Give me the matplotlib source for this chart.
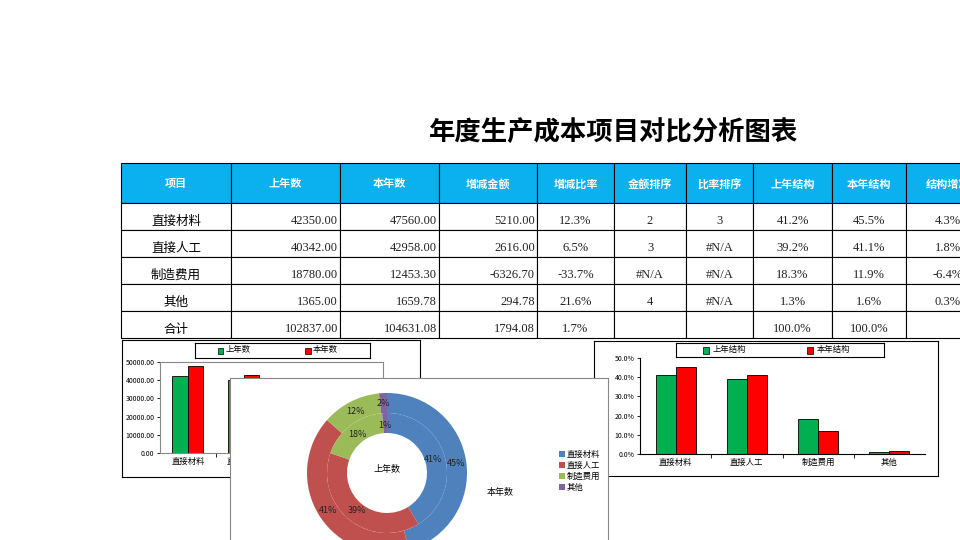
import matplotlib.pyplot as plt
from matplotlib.patches import Rectangle

plt.rcParams['font.family'] = ['Noto Sans CJK SC', 'DejaVu Sans']

# table data
headers = ['项目', '上年数', '本年数', '增减金额', '增减比率', '金额排序', '比率排序', '上年结构', '本年结构', '结构增减']
items = ['直接材料', '直接人工', '制造费用', '其他', '合计']
last_year = ['42350.00', '40342.00', '18780.00', '1365.00', '102837.00']
this_year = ['47560.00', '42958.00', '12453.30', '1659.78', '104631.08']
change_amt = ['5210.00', '2616.00', '-6326.70', '294.78', '1794.08']
change_pct = ['12.3%', '6.5%', '-33.7%', '21.6%', '1.7%']
amt_rank = ['2', '3', '#N/A', '4', '']
pct_rank = ['3', '#N/A', '#N/A', '#N/A', '']
last_struct = ['41.2%', '39.2%', '18.3%', '1.3%', '100.0%']
this_struct = ['45.5%', '41.1%', '11.9%', '1.6%', '100.0%']
struct_chg = ['4.3%', '1.8%', '-6.4%', '0.3%', '']

# chart data
cats = ['直接材料', '直接人工', '制造费用', '其他']
last_vals = [42350.00, 40342.00, 18780.00, 1365.00]
this_vals = [47560.00, 42958.00, 12453.30, 1659.78]
last_share = [41.2, 39.2, 18.3, 1.3]
this_share = [45.5, 41.1, 11.9, 1.6]

W, H = 960, 540
fig = plt.figure(figsize=(9.6, 5.4), dpi=100)


def rect(x0, y0, x1, y1):
    return [x0 / W, 1 - y1 / H, (x1 - x0) / W, (y1 - y0) / H]


bg = fig.add_axes([0, 0, 1, 1])
bg.set_xlim(0, W)
bg.set_ylim(H, 0)
bg.axis('off')

bg.text(614, 132, '年度生产成本项目对比分析图表', ha='center', va='center',
        fontsize=19, fontweight='bold')

# table
col_x = [121, 231, 340, 439, 537, 614, 686, 753, 832, 906, 990]
row_y = [163, 203, 230, 257, 284, 311, 338]
for i, h in enumerate(headers):
    bg.add_patch(Rectangle((col_x[i], row_y[0]), col_x[i + 1] - col_x[i], row_y[1] - row_y[0],
                           facecolor='#0BB0EE', edgecolor='black', lw=0.8))
    bg.text((col_x[i] + col_x[i + 1]) / 2, 184, h, ha='center', va='center',
            color='white', fontsize=8, fontweight='bold')

cols = [items, last_year, this_year, change_amt, change_pct, amt_rank, pct_rank,
        last_struct, this_struct, struct_chg]
serif = ['Liberation Serif']
for r in range(5):
    y0, y1 = row_y[r + 1], row_y[r + 2]
    for c, vals in enumerate(cols):
        bg.add_patch(Rectangle((col_x[c], y0), col_x[c + 1] - col_x[c], y1 - y0,
                               facecolor='white', edgecolor='black', lw=0.8))
        ty = y1 - 9
        if c in (1, 2, 3):
            bg.text(col_x[c + 1] - 2, ty, vals[r], ha='right', va='center', fontsize=9,
                    family=serif, color='#222222')
        elif c == 0:
            bg.text((col_x[c] + col_x[c + 1]) / 2, ty, vals[r], ha='center', va='center', fontsize=9)
        else:
            bg.text((col_x[c] + col_x[c + 1]) / 2, ty, vals[r], ha='center', va='center',
                    fontsize=9, family=serif, color='#222222')

green, red = '#00B050', '#FF0000'


def frame(x0, y0, x1, y1, edge='black'):
    a = fig.add_axes(rect(x0, y0, x1, y1))
    a.set_xticks([])
    a.set_yticks([])
    for s in a.spines.values():
        s.set_color(edge)
        s.set_linewidth(0.8)
    return a


def bar_chart(box, plot, vals_a, vals_b, labels, ylim, ticks, ticklabels, legend_box, grey_border):
    frame(*box)
    ax = fig.add_axes(rect(*plot))
    x = range(len(cats))
    bw = 0.28
    ax.bar([i - bw / 2 for i in x], vals_a, width=bw, color=green, edgecolor='black', lw=0.6)
    ax.bar([i + bw / 2 for i in x], vals_b, width=bw, color=red, edgecolor='black', lw=0.6)
    ax.set_xlim(-0.5, len(cats) - 0.5)
    ax.set_ylim(*ylim)
    ax.set_yticks(ticks)
    ax.set_yticklabels(ticklabels, fontsize=5)
    ax.set_xticks([i + 0.5 for i in x][:-1], minor=True)
    ax.set_xticks(list(x))
    ax.set_xticklabels(cats, fontsize=6)
    ax.tick_params(axis='x', which='major', length=0, pad=3)
    ax.tick_params(axis='x', which='minor', length=3, width=0.6)
    ax.tick_params(axis='y', length=2, width=0.6, pad=2)
    if grey_border:
        for s in ax.spines.values():
            s.set_color('#888888')
            s.set_linewidth(0.8)
    else:
        ax.spines['top'].set_visible(False)
        ax.spines['right'].set_visible(False)
    lx0, ly0, lx1, ly1 = legend_box
    la = fig.add_axes(rect(lx0, ly0, lx1, ly1))
    la.set_xticks([])
    la.set_yticks([])
    la.set_xlim(0, 1)
    la.set_ylim(0, 1)
    for i, (lab, col) in enumerate(zip(labels, [green, red])):
        px = 0.13 + i * 0.5
        la.add_patch(Rectangle((px, 0.25), 0.03, 0.45, facecolor=col, edgecolor='black', lw=0.5))
        la.text(px + 0.045, 0.55, lab, va='center', fontsize=6)
    return ax


bar_chart((122, 340, 420, 477), (160, 362, 383, 453), last_vals, this_vals,
          ['上年数', '本年数'], (0, 50000), range(0, 50001, 10000),
          ['%.2f' % v for v in range(0, 50001, 10000)], (195, 343, 370, 358), True)

bar_chart((594, 341, 938, 476), (640, 358, 925, 454), last_share, this_share,
          ['上年结构', '本年结构'], (0, 50), range(0, 51, 10),
          ['%.1f%%' % v for v in range(0, 51, 10)], (676, 343, 884, 357), False)

# donut chart
frame(230, 378, 608, 560, edge='#888888')
pie_colors = ['#4F81BD', '#C0504D', '#9BBB59', '#8064A2']
pa = fig.add_axes(rect(307, 393, 467, 553))
pa.pie(this_share, radius=1.0, colors=pie_colors, startangle=90, counterclock=False,
       wedgeprops=dict(width=0.25, edgecolor='none'), autopct='%.0f%%', pctdistance=0.87,
       textprops=dict(fontsize=6.5, color='#222222'))
pa.pie(last_share, radius=0.75, colors=pie_colors, startangle=90, counterclock=False,
       wedgeprops=dict(width=0.25, edgecolor='none'), autopct='%.0f%%', pctdistance=0.8,
       textprops=dict(fontsize=6.5, color='#222222'))
pa.set_xlim(-1, 1)
pa.set_ylim(-1, 1)
pa.text(0, 0.04, '上年数', ha='center', va='center', fontsize=6.5)
top = fig.add_axes([0, 0, 1, 1])
top.set_xlim(0, W)
top.set_ylim(H, 0)
top.axis('off')
top.text(500, 492, '本年数', ha='center', va='center', fontsize=6.5)
for i, (lab, col) in enumerate(zip(cats, pie_colors)):
    y = 454 + i * 11
    top.add_patch(Rectangle((559, y - 3), 6, 6, facecolor=col, edgecolor='none'))
    top.text(567, y, lab, va='center', fontsize=6)

fig.savefig('out.png', dpi=100)
